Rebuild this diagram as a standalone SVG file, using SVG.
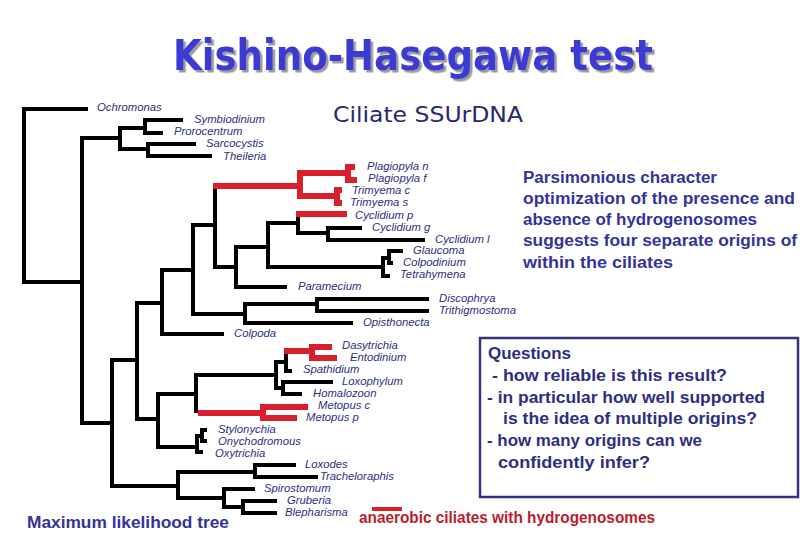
<svg xmlns="http://www.w3.org/2000/svg" width="810" height="540" viewBox="0 0 810 540">
<style>
.lbl{font-family:"Liberation Sans",Arial,sans-serif;font-style:italic;font-size:11.3px;fill:#2e2e7e}
.cm{font-family:"DejaVu Sans","Liberation Sans",sans-serif;fill:#33339a}
.tx{font-family:"Liberation Sans",Arial,sans-serif;font-weight:bold;font-size:16px;fill:#33339a}
.blk{fill:none;stroke:#000;stroke-width:4;stroke-linejoin:miter}
.red{fill:none;stroke:#d7202b;stroke-width:6;stroke-linejoin:miter}
</style>
<defs>
<filter id="shadow" x="-5%" y="-20%" width="110%" height="150%">
<feDropShadow dx="2.5" dy="2.5" stdDeviation="0.6" flood-color="#9a9a9a" flood-opacity="1"/>
</filter>
</defs>
<rect width="810" height="540" fill="#fff"/>
<g id="title">
<text x="173" y="70" font-family="DejaVu Sans,sans-serif" font-weight="bold" font-size="42" fill="#3a3ad4" filter="url(#shadow)" textLength="480" lengthAdjust="spacingAndGlyphs">Kishino-Hasegawa test</text>
</g>
<g id="subtitle"><text x="333" y="122" class="cm" font-size="22" style="fill:#28286e" textLength="190" lengthAdjust="spacingAndGlyphs">Ciliate SSUrDNA</text></g>
<g id="connectors">
<path class="blk" d="M88 109H24V282H82 M120 138H82V423H112 M145 128H120V149H148 M183 120H145V133H163 M196 144H148V156H212 M137 360H112V486H178 M162 303H137V419H158 M193 270H162V334H224 M215 225H193V314H245 M215 186V267H236 M268 247H236V287H287 M298 223H268V267H383 M298 214V233H328 M362 228H328V240H425 M389 258H383V276H390 M403 251H389V263H393 M317 304H245V323H353 M429 299H317V311H429 M196 394H158V447H197 M276 375H196V413 M286 362H276V388H283 M286 351V371H292 M333 382H283V394H302 M202 436H197V452H203 M207 430H202V441H207 M255 472H178V498H224 M296 465H255V477H318 M255 489H224V507H243 M277 501H243V513H277"/>
<path class="red" d="M213 186H300 M348 173H300V196H337 M355 167H348V180H357 M342 190H337V203H342 M296 214H347 M198 413H263 M308 407H263V418H297 M284 351H312 M332 347H312V358H337"/>
</g>
<g id="leaves" class="lbl">
<g id="n-ochromonas"><text x="97" y="111">Ochromonas</text></g>
<g id="n-symbiodinium"><text x="194" y="123">Symbiodinium</text></g>
<g id="n-prorocentrum"><text x="174" y="135">Prorocentrum</text></g>
<g id="n-sarcocystis"><text x="206" y="147">Sarcocystis</text></g>
<g id="n-theileria"><text x="223" y="160">Theileria</text></g>
<g id="n-plagn"><text x="367" y="170">Plagiopyla n</text></g>
<g id="n-plagf"><text x="368" y="182">Plagiopyla f</text></g>
<g id="n-trimc"><text x="352" y="194">Trimyema c</text></g>
<g id="n-trims"><text x="350" y="206">Trimyema s</text></g>
<g id="n-cycp"><text x="355" y="219">Cyclidium p</text></g>
<g id="n-cycg"><text x="372" y="231">Cyclidium g</text></g>
<g id="n-cycl"><text x="435" y="243">Cyclidium l</text></g>
<g id="n-glaucoma"><text x="413" y="254">Glaucoma</text></g>
<g id="n-colpodinium"><text x="403" y="266">Colpodinium</text></g>
<g id="n-tetrahymena"><text x="400" y="278">Tetrahymena</text></g>
<g id="n-paramecium"><text x="298" y="290">Paramecium</text></g>
<g id="n-discophrya"><text x="439" y="302">Discophrya</text></g>
<g id="n-trithigmostoma"><text x="439" y="314">Trithigmostoma</text></g>
<g id="n-opisthonecta"><text x="363" y="326">Opisthonecta</text></g>
<g id="n-colpoda"><text x="234" y="337">Colpoda</text></g>
<g id="n-dasytrichia"><text x="342" y="349">Dasytrichia</text></g>
<g id="n-entodinium"><text x="350" y="361">Entodinium</text></g>
<g id="n-spathidium"><text x="303" y="373">Spathidium</text></g>
<g id="n-loxophylum"><text x="342" y="385">Loxophylum</text></g>
<g id="n-homalozoon"><text x="313" y="397">Homalozoon</text></g>
<g id="n-metopusc"><text x="318" y="409">Metopus c</text></g>
<g id="n-metopusp"><text x="306" y="421">Metopus p</text></g>
<g id="n-stylonychia"><text x="218" y="433">Stylonychia</text></g>
<g id="n-onychodromous"><text x="218" y="445">Onychodromous</text></g>
<g id="n-oxytrichia"><text x="215" y="457">Oxytrichia</text></g>
<g id="n-loxodes"><text x="305" y="468">Loxodes</text></g>
<g id="n-tracheloraphis"><text x="320" y="480">Tracheloraphis</text></g>
<g id="n-spirostomum"><text x="264" y="492">Spirostomum</text></g>
<g id="n-gruberia"><text x="287" y="503.5">Gruberia</text></g>
<g id="n-blepharisma"><text x="285" y="515.5">Blepharisma</text></g>
</g>
<g id="parsimony" class="tx">
<text x="523" y="183" textLength="194" lengthAdjust="spacingAndGlyphs">Parsimonious character</text>
<text x="523" y="204" textLength="272" lengthAdjust="spacingAndGlyphs">optimization of the presence and</text>
<text x="523" y="225" textLength="234" lengthAdjust="spacingAndGlyphs">absence of hydrogenosomes</text>
<text x="523" y="246" textLength="274" lengthAdjust="spacingAndGlyphs">suggests four separate origins of</text>
<text x="523" y="268" textLength="150" lengthAdjust="spacingAndGlyphs">within the ciliates</text>
</g>
<g id="questions">
<rect x="480" y="338" width="318" height="159" fill="none" stroke="#33337f" stroke-width="2.5"/>
<g class="tx" style="fill:#2e2e80">
<text x="488" y="359" textLength="83" lengthAdjust="spacingAndGlyphs">Questions</text>
<text x="492" y="381" textLength="235" lengthAdjust="spacingAndGlyphs">- how reliable is this result?</text>
<text x="487" y="403" textLength="278" lengthAdjust="spacingAndGlyphs">- in particular how well supported</text>
<text x="503" y="424" textLength="254" lengthAdjust="spacingAndGlyphs">is the idea of multiple origins?</text>
<text x="487" y="446" textLength="215" lengthAdjust="spacingAndGlyphs">- how many origins can we</text>
<text x="498" y="468" textLength="152" lengthAdjust="spacingAndGlyphs">confidently infer?</text>
</g>
</g>
<g id="mltree"><text x="27" y="528" class="tx" style="font-size:17px;fill:#33339a" textLength="202" lengthAdjust="spacingAndGlyphs">Maximum likelihood tree</text></g>
<g id="legend">
<line x1="372" y1="509" x2="402" y2="509" stroke="#d7202b" stroke-width="4"/>
<text x="359" y="523" class="tx" style="fill:#b81c2e" textLength="296" lengthAdjust="spacingAndGlyphs">anaerobic ciliates with hydrogenosomes</text>
</g>
</svg>
